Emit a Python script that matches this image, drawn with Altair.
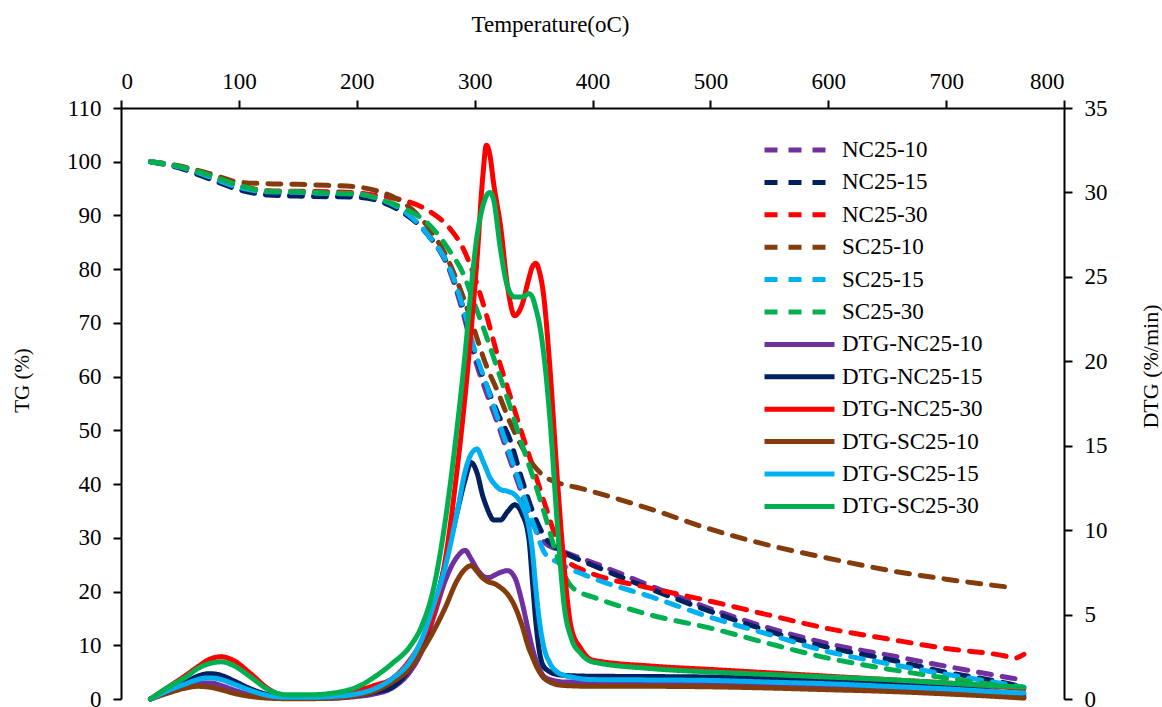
import altair as alt
import pandas as pd

# ---------------- data ----------------
TG_TEMP = [25, 50, 75, 100, 125, 150, 175, 200, 220, 240, 260, 280, 290, 300, 310, 320,
           330, 340, 350, 360, 370, 380, 390, 400, 450, 500, 550, 600, 650, 700, 750, 758, 766]

TG_NC25_10 = [100, 99.0, 97.2, 95.3, 94.2, 94.0, 93.9, 93.7, 92.8, 90.6, 86.5, 79.0, 72.0, 63.5, 57.0, 51.0,
              44.5, 38.3, 32.3, 29.0, 27.9, 27.0, 26.2, 25.4, 21.0, 16.8, 13.2, 10.3, 8.2, 6.1, 4.1, 3.8, 3.6]
TG_NC25_15 = [100, 98.8, 96.8, 94.8, 93.8, 93.6, 93.5, 93.4, 92.6, 90.4, 86.5, 79.5, 73.0, 64.5, 58.5, 53.0,
              48.3, 41.0, 34.5, 30.0, 28.0, 26.8, 25.8, 24.9, 20.4, 16.3, 12.6, 9.6, 7.4, 5.0, 3.0, 2.6, 2.3]
TG_NC25_30 = [100, 99.1, 97.5, 95.6, 94.6, 94.5, 94.4, 94.2, 93.6, 92.8, 91.0, 87.3, 84.0, 78.5, 71.5, 63.5,
              56.5, 49.5, 42.8, 36.0, 29.5, 25.5, 24.2, 23.3, 20.6, 18.2, 15.6, 13.1, 11.2, 9.4, 8.0, 7.6, 8.3]
TG_SC25_10 = [100, 99.2, 97.8, 96.2, 95.9, 95.8, 95.6, 95.3, 94.4, 92.3, 88.0, 80.5, 75.0, 68.5, 62.0, 57.0,
              51.5, 47.0, 43.5, 41.3, 40.3, 39.7, 39.2, 38.6, 35.3, 31.6, 28.6, 26.2, 24.0, 22.3, 20.9, 20.7, None]
TG_SC25_15 = [100, 99.0, 97.2, 95.2, 94.4, 94.3, 94.1, 94.0, 93.0, 90.8, 86.5, 79.5, 73.0, 65.0, 58.5, 52.0,
              45.5, 39.0, 32.5, 27.0, 25.5, 24.3, 23.4, 22.5, 19.0, 15.2, 12.0, 8.8, 6.6, 4.6, 2.8, 2.5, 2.2]
TG_SC25_30 = [100, 99.1, 97.5, 95.6, 94.5, 94.4, 94.2, 94.0, 93.0, 91.3, 88.6, 83.0, 79.3, 73.5, 67.5, 61.0,
              54.5, 47.5, 41.0, 34.0, 26.5, 21.5, 19.8, 19.0, 15.6, 13.2, 10.3, 7.6, 5.6, 3.9, 2.4, 2.2, 2.0]

DTG_TEMP = [25, 40, 55, 65, 75, 85, 95, 110, 125, 140, 160, 180, 200, 215, 230, 245, 255, 265, 275, 285,
            292, 297, 302, 307, 310, 313, 316, 322, 328, 334, 340, 346, 349, 352, 355, 358,
            364, 370, 376, 382, 390, 400, 450, 500, 550, 600, 650, 700, 750, 766]

DTG_NC25_10 = [0, 0.4, 0.75, 0.95, 0.95, 0.8, 0.55, 0.25, 0.1, 0.05, 0.03, 0.05, 0.15, 0.3, 0.65, 1.6, 2.8, 4.8, 7.0, 8.4,
               8.8, 8.3, 7.7, 7.3, 7.2, 7.2, 7.3, 7.5, 7.6, 7.2, 5.8, 3.9, 3.0, 2.3, 1.8, 1.4,
               1.15, 1.05, 1.0, 1.0, 1.0, 1.0, 1.0, 0.95, 0.9, 0.8, 0.65, 0.5, 0.3, 0.25]
DTG_NC25_15 = [0, 0.5, 1.0, 1.35, 1.5, 1.4, 1.1, 0.6, 0.25, 0.1, 0.05, 0.1, 0.2, 0.4, 0.7, 1.8, 3.0, 5.2, 8.0, 11.0,
               13.0, 14.0, 13.4, 12.0, 11.4, 10.9, 10.6, 10.6, 11.1, 11.5, 11.0, 9.5, 7.0, 4.5, 2.8, 2.0,
               1.6, 1.45, 1.4, 1.38, 1.36, 1.35, 1.33, 1.3, 1.2, 1.1, 0.9, 0.7, 0.35, 0.1]
DTG_NC25_30 = [0, 0.7, 1.4, 1.9, 2.35, 2.5, 2.3, 1.5, 0.6, 0.2, 0.2, 0.3, 0.5, 0.8, 1.2, 2.3, 3.4, 5.0, 8.2, 13.5,
               18.0, 21.8, 26.0, 31.0, 32.8, 32.2, 30.6, 28.0, 24.4, 22.7, 23.3, 24.9, 25.6, 25.8, 25.3, 24.2,
               19.5, 13.2, 7.8, 4.2, 3.0, 2.3, 1.95, 1.75, 1.55, 1.35, 1.15, 0.95, 0.7, 0.6]
DTG_SC25_10 = [0, 0.35, 0.65, 0.75, 0.7, 0.55, 0.35, 0.15, 0.05, 0.02, 0.02, 0.05, 0.2, 0.45, 1.0, 1.8, 2.8, 4.0, 5.4, 7.0,
               7.7, 7.9, 7.55, 7.15, 7.0, 6.9, 6.85, 6.6, 6.2, 5.5, 4.4, 3.0, 2.5, 2.0, 1.6, 1.3,
               1.0, 0.85, 0.8, 0.78, 0.76, 0.75, 0.75, 0.72, 0.65, 0.55, 0.45, 0.3, 0.12, 0.05]
DTG_SC25_15 = [0, 0.5, 0.9, 1.15, 1.25, 1.15, 0.9, 0.5, 0.2, 0.1, 0.1, 0.15, 0.3, 0.6, 1.2, 2.2, 3.5, 5.5, 7.8, 11.0,
               13.5, 14.5, 14.8, 14.1, 13.6, 13.1, 12.8, 12.4, 12.3, 12.1, 11.5, 10.2, 8.8, 6.5, 4.6, 3.3,
               2.1, 1.6, 1.4, 1.3, 1.2, 1.15, 1.13, 1.1, 1.0, 0.9, 0.75, 0.6, 0.4, 0.35]
DTG_SC25_30 = [0, 0.7, 1.3, 1.8, 2.1, 2.2, 2.0, 1.3, 0.55, 0.25, 0.25, 0.35, 0.7, 1.3, 2.1, 3.1, 4.3, 6.5, 10.5, 16.0,
               20.5, 24.3, 27.4, 29.2, 29.8, 30.0, 29.6, 26.6, 24.4, 23.8, 23.8, 24.0, 23.8, 23.1, 22.2, 20.8,
               16.5, 10.5, 5.5, 3.6, 2.7, 2.2, 1.8, 1.6, 1.45, 1.3, 1.15, 0.95, 0.75, 0.7]

TG_NAMES = ["NC25-10", "NC25-15", "NC25-30", "SC25-10", "SC25-15", "SC25-30"]
DTG_NAMES = ["DTG-NC25-10", "DTG-NC25-15", "DTG-NC25-30", "DTG-SC25-10", "DTG-SC25-15", "DTG-SC25-30"]
TG_SERIES = [TG_NC25_10, TG_NC25_15, TG_NC25_30, TG_SC25_10, TG_SC25_15, TG_SC25_30]
DTG_SERIES = [DTG_NC25_10, DTG_NC25_15, DTG_NC25_30, DTG_SC25_10, DTG_SC25_15, DTG_SC25_30]

X_TICKS = list(range(0, 801, 100))
TG_TICKS = list(range(0, 111, 10))
DTG_TICKS = list(range(0, 36, 5))

PALETTE = ["#7030A0", "#002060", "#FF0000", "#843C0C", "#00B0F0", "#00B050"]
ALL_NAMES = TG_NAMES + DTG_NAMES
COLORS = PALETTE + PALETTE
DASHES = [[13, 11]] * 6 + [[1, 0]] * 6

# ---------------- tables ----------------
tg_rows = []
for name, vals in zip(TG_NAMES, TG_SERIES):
    for t, v in zip(TG_TEMP, vals):
        if v is not None:
            tg_rows.append({"series": name, "T": t, "TG": v})
df_tg = pd.DataFrame(tg_rows)

dtg_rows = []
for name, vals in zip(DTG_NAMES, DTG_SERIES):
    for t, v in zip(DTG_TEMP, vals):
        dtg_rows.append({"series": name, "T": t, "DTG": v})
df_dtg = pd.DataFrame(dtg_rows)

FONT = "Liberation Serif"

legend = alt.Legend(
    orient="none", legendX=641, legendY=26, title=None, padding=0,
    labelFont=FONT, labelFontSize=23, labelColor="black", labelLimit=400,
    labelOffset=5, symbolType="stroke", symbolSize=4900, symbolStrokeWidth=5,
    clipHeight=32, rowPadding=0.4,
)

color = alt.Color("series:N", scale=alt.Scale(domain=ALL_NAMES, range=COLORS), legend=legend)
dash = alt.StrokeDash("series:N", scale=alt.Scale(domain=ALL_NAMES, range=DASHES), legend=legend)

x_axis = alt.Axis(
    orient="top", values=X_TICKS, title="Temperature(oC)", grid=False,
    labelFont=FONT, labelFontSize=23, labelColor="black", labelBaseline="alphabetic",
    labelPadding=12, tickSize=8, tickWidth=2, tickColor="black",
    domainColor="black", domainWidth=2,
    titleFont=FONT, titleFontSize=23, titleFontWeight="normal", titleColor="black",
    titleX=429, titleY=-77, titleBaseline="alphabetic", titleAlign="center",
)
x_enc = alt.X("T:Q", scale=alt.Scale(domain=[0, 800], nice=False, zero=False), axis=x_axis)

left_axis = alt.Axis(
    orient="left", values=TG_TICKS, title="TG (%)", grid=False,
    labelFont=FONT, labelFontSize=23, labelColor="black", labelPadding=12,
    tickSize=8, tickWidth=2, tickColor="black", domainColor="black", domainWidth=2,
    titleFont=FONT, titleFontSize=21, titleFontWeight="normal", titleColor="black",
    titleX=-99, titleY=272, titleAngle=270, titleBaseline="middle", titleAlign="center",
)
right_axis = alt.Axis(
    orient="right", values=DTG_TICKS, title="DTG (%/min)", grid=False,
    labelFont=FONT, labelFontSize=23, labelColor="black", labelPadding=12,
    tickSize=8, tickWidth=2, tickColor="black", domainColor="black", domainWidth=2,
    titleFont=FONT, titleFontSize=22, titleFontWeight="normal", titleColor="black",
    titleX=86, titleY=258, titleAngle=270, titleBaseline="middle", titleAlign="center",
)

tg = alt.Chart(df_tg).mark_line(strokeWidth=5, strokeCap="round", interpolate="monotone").encode(
    x=x_enc,
    y=alt.Y("TG:Q", scale=alt.Scale(domain=[0, 110], nice=False), axis=left_axis),
    color=color,
    strokeDash=dash,
)

dtg = alt.Chart(df_dtg).mark_line(strokeWidth=5, strokeCap="round", interpolate="monotone").encode(
    x=x_enc,
    y=alt.Y("DTG:Q", scale=alt.Scale(domain=[0, 35], nice=False), axis=right_axis),
    color=color,
    strokeDash=dash,
)

chart = (
    alt.layer(tg, dtg)
    .resolve_scale(y="independent")
    .properties(
        width=943, height=591,
        autosize=alt.AutoSizeParams(type="none"),
        padding={"left": 121, "top": 108, "right": 98, "bottom": 8},
        background="white",
    )
    .configure_view(stroke=None)
)

chart.save("out.html", embed_options={"renderer": "svg", "actions": False})
